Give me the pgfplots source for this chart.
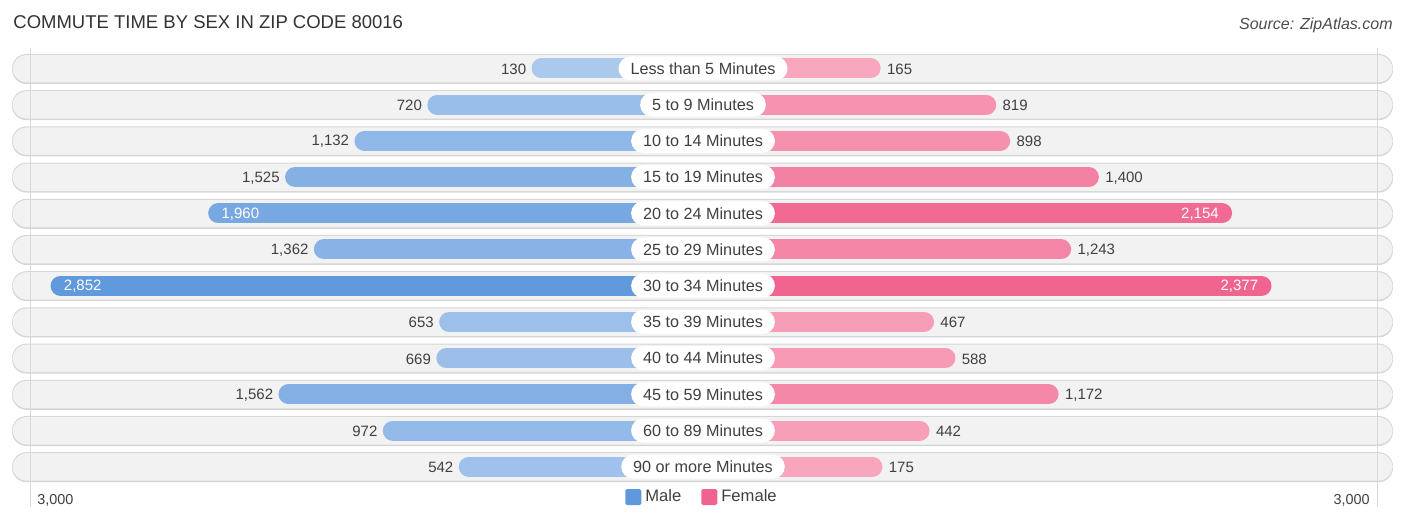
\documentclass[border=0pt]{standalone}
\usepackage{fontspec}
\setmainfont{Liberation Sans}
\usepackage{pgfplots}
\usepackage{pgfplotstable}
\pgfplotsset{compat=1.18}

\definecolor{maleS}{HTML}{5F98DC}
\definecolor{maleL}{HTML}{AECBEE}
\definecolor{femS}{HTML}{F0638F}
\definecolor{femL}{HTML}{F8ABC2}
\definecolor{pill}{HTML}{F2F2F2}
\definecolor{pilledge}{HTML}{D6D6D6}
\definecolor{txt}{HTML}{404040}

% commute time by sex, zip code 80016
\pgfplotstableread[col sep=comma,row sep=\\]{
name,male,female\\
Less than 5 Minutes,130,165\\
5 to 9 Minutes,720,819\\
10 to 14 Minutes,1132,898\\
15 to 19 Minutes,1525,1400\\
20 to 24 Minutes,1960,2154\\
25 to 29 Minutes,1362,1243\\
30 to 34 Minutes,2852,2377\\
35 to 39 Minutes,653,467\\
40 to 44 Minutes,669,588\\
45 to 59 Minutes,1562,1172\\
60 to 89 Minutes,972,442\\
90 or more Minutes,542,175\\
}\commute

\tikzset{
  vlab/.style={inner sep=0pt, font=\fontsize{7.5pt}{9pt}\selectfont},
  lbl/.style={fill=white, rounded corners=6pt, inner xsep=6pt, inner ysep=0pt,
    minimum height=12pt, text=txt, font=\fontsize{8.1pt}{9pt}\selectfont},
}

\begin{document}
\begin{tikzpicture}
\begin{axis}[
  width=703pt, height=261.5pt, scale only axis,
  xmin=-703, xmax=703, ymin=0, ymax=523, y dir=reverse,
  axis lines=none, clip=false,
  /pgf/number format/1000 sep={,},
  /pgf/number format/assume math mode=true,
  legend columns=2,
  legend style={at={(0.5,0.0497)}, anchor=center, draw=none, fill=none,
    font=\fontsize{8.3pt}{9pt}\selectfont, text=txt,
    /tikz/every even column/.append style={column sep=8pt}},
  legend image code/.code={\fill[#1, draw=none, rounded corners=0.8pt] (0pt,-4pt) rectangle (8pt,4pt);},
]
\path (axis cs:-703,0) rectangle (axis cs:703,523);

% row backgrounds
\pgfplotsinvokeforeach{0,...,11}{
  \fill[pilledge, rounded corners=7.25pt]
    (axis cs:-691,{68.5+36.2*#1-14.5}) rectangle (axis cs:690,{68.5+36.2*#1+15.5});
  \fill[pill, rounded corners=7.25pt]
    (axis cs:-690.5,{68.5+36.2*#1-13.5}) rectangle (axis cs:689.5,{68.5+36.2*#1+14});
}
\draw[gray!30, line width=0.5pt] (axis cs:-673,48) -- (axis cs:-673,507);
\draw[gray!30, line width=0.5pt] (axis cs:674,48) -- (axis cs:674,507);

% bars, values and category labels
\pgfplotsinvokeforeach{0,...,11}{
  \pgfplotstablegetelem{#1}{male}\of\commute \let\mv\pgfplotsretval
  \pgfplotstablegetelem{#1}{female}\of\commute \let\fv\pgfplotsretval
  \pgfplotstablegetelem{#1}{name}\of\commute \let\nm\pgfplotsretval
  \pgfmathsetmacro\yy{68.5+36.2*#1}
  \pgfmathsetmacro\yl{\yy+0.8}
  \pgfmathsetmacro\xm{-(148.5+0.1767*\mv)}
  \pgfmathsetmacro\xf{148.5+0.1767*\fv}
  \pgfmathsetmacro\xmc{\xm+10}
  \pgfmathsetmacro\xfc{\xf-10}
  \pgfmathtruncatemacro\mpct{\mv/28.52}
  \pgfmathtruncatemacro\fpct{\fv/23.77}
  \ifnum\mv>1800 \def\manch{west}\pgfmathsetmacro\xml{\xm+13}\def\mcol{white}%
  \else \def\manch{east}\pgfmathsetmacro\xml{\xm-5}\def\mcol{txt}\fi
  \ifnum\fv>1800 \def\fanch{east}\pgfmathsetmacro\xfl{\xf-13}\def\fcol{white}%
  \else \def\fanch{west}\pgfmathsetmacro\xfl{\xf+6}\def\fcol{txt}\fi
  \edef\temp{%
    \noexpand\addplot[xcomb, forget plot, line width=10pt, line cap=round,
      color=maleS!\mpct!maleL] coordinates {(\xmc,\yy)};
    \noexpand\addplot[xcomb, forget plot, line width=10pt, line cap=round,
      color=femS!\fpct!femL] coordinates {(\xfc,\yy)};
    \noexpand\node[vlab, anchor=\manch, text=\mcol] at (axis cs:\xml,\yl)
      {\noexpand\pgfmathprintnumber{\mv}};
    \noexpand\node[vlab, anchor=\fanch, text=\fcol] at (axis cs:\xfl,\yl)
      {\noexpand\pgfmathprintnumber{\fv}};
    \noexpand\node[lbl] at (axis cs:0,\yy) {\nm};
  }\temp
}

% title, source, scale ends
\node[anchor=base west, inner sep=0pt, text=black!80, font=\fontsize{9.25pt}{11pt}\selectfont]
  at (axis cs:-690,29) {COMMUTE TIME BY SEX IN ZIP CODE 80016};
\node[anchor=base east, inner sep=0pt, text=black!70, font=\itshape\fontsize{8pt}{10pt}\selectfont]
  at (axis cs:690,30) {Source: ZipAtlas.com};
\node[vlab, anchor=base west, text=txt, font=\fontsize{7.2pt}{9pt}\selectfont] at (axis cs:-666,504) {3,000};
\node[vlab, anchor=base east, text=txt, font=\fontsize{7.2pt}{9pt}\selectfont] at (axis cs:667,504) {3,000};

\addlegendimage{fill=maleS}
\addlegendentry{Male}
\addlegendimage{fill=femS}
\addlegendentry{Female}
\end{axis}
\end{tikzpicture}
\end{document}
